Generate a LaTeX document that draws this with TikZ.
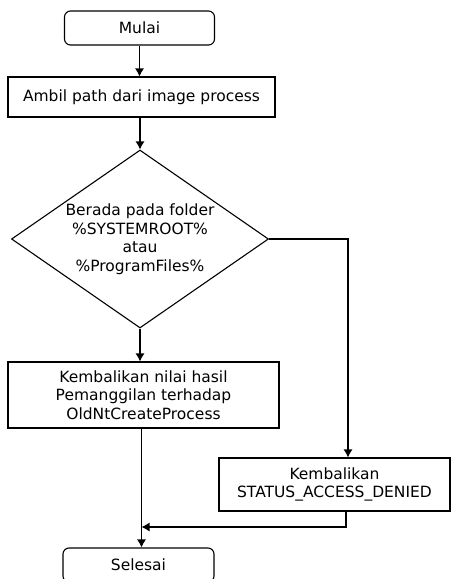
\documentclass[tikz,border=0pt]{standalone}
\usepackage{fontspec}
\setmainfont{DejaVu Sans}
\usetikzlibrary{shapes.geometric,arrows.meta}
\tikzset{
  x=1pt, y=-1pt,
  every node/.style={font=\fontsize{15.5}{18.5}\selectfont, align=center},
  terminal/.style={draw, line width=1.1pt, rounded corners=6pt, inner sep=0pt},
  procbox/.style={draw, line width=1.1pt, inner sep=0pt},
  decision/.style={draw, line width=1.1pt, diamond, inner sep=0pt},
  flow/.style={line width=1.1pt, -{Latex[length=8pt,width=9pt]}}
}
\begin{document}
\begin{tikzpicture}
\useasboundingbox (0,0) rectangle (464,579);
\clip (0,0) rectangle (464,579);
\node[terminal, minimum width=150pt, minimum height=34pt] (mulai) at (139.5,28) {Mulai};
\node[procbox, minimum width=267pt, minimum height=40pt] (ambil) at (141.5,97) {Ambil path dari image process};
\node[decision, minimum width=257pt, minimum height=178pt] (d) at (140,239) {};
\node (dtext) at (140,239) {Berada pada folder\\ \%SYSTEMROOT\%\\ atau\\ \%ProgramFiles\%};
\node[procbox, minimum width=271pt, minimum height=66pt] (kb) at (143.5,395) {Kembalikan nilai hasil\\ Pemanggilan terhadap\\ OldNtCreateProcess};
\node[procbox, minimum width=231pt, minimum height=53pt] (rb) at (334.5,484.5) {Kembalikan\\ STATUS\_ACCESS\_DENIED};
\node[terminal, minimum width=151pt, minimum height=34pt] (sel) at (138.5,565) {Selesai};
\coordinate (j) at (141.5,527);

\draw[flow] (mulai.south) -- (mulai.south |- ambil.north);
\draw[flow] (ambil.south -| d.north) -- (d.north);
\draw[flow] (d.south) -- (d.south |- kb.north);
\draw[flow] (d.east) -| ([xshift=13.5pt]rb.north);
\draw[flow] ([xshift=-2pt]kb.south) -- ([xshift=-2pt]kb.south |- sel.north);
\draw[flow] ([xshift=11.5pt]rb.south) |- (j);
\end{tikzpicture}
\end{document}
